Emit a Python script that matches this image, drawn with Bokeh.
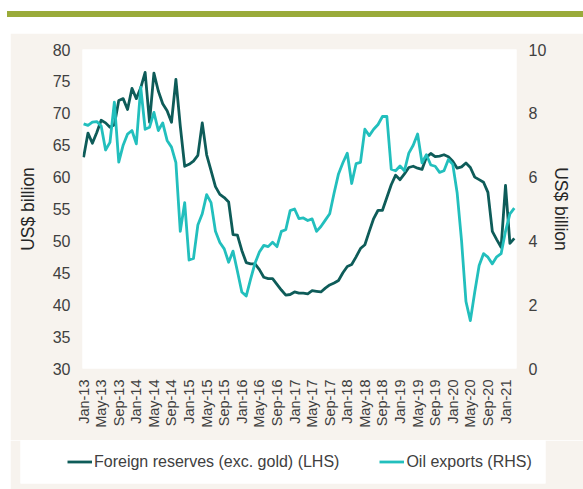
import math
from bokeh.plotting import figure
from bokeh.models import Range1d, LinearAxis, FixedTicker, Legend, LegendItem, Div
from bokeh.layouts import column
from bokeh.embed import file_html
from bokeh.resources import INLINE

# ---------------- data ----------------
reserves = [63.1, 66.9, 65.3, 67.0, 68.9, 68.5, 67.8, 68.2, 72.0, 72.3,
            70.6, 73.9, 72.3, 74.0, 76.4, 68.6, 76.3, 73.5, 71.5, 70.4,
            68.6, 75.3, 68.0, 61.7, 62.0, 62.5, 63.4, 68.5, 63.5, 61.0,
            58.5, 57.3, 56.8, 56.1, 51.0, 50.9, 48.5, 46.6, 46.4, 46.4,
            45.5, 44.3, 44.1, 44.1, 43.2, 42.3, 41.5, 41.6, 42.0, 41.8,
            41.8, 41.7, 42.2, 42.1, 42.0, 42.6, 43.1, 43.4, 43.8, 45.0,
            46.0, 46.3, 47.5, 48.8, 49.4, 51.5, 53.5, 54.8, 54.8, 56.8,
            58.8, 60.3, 59.6, 60.5, 61.5, 61.7, 61.4, 61.2, 63.1, 63.7,
            63.2, 63.3, 63.5, 63.2, 62.5, 61.4, 61.6, 62.2, 61.5, 60.0,
            59.6, 59.2, 57.6, 51.5, 50.2, 49.0, 58.7, 49.6, 50.4]

oil = [7.67, 7.62, 7.72, 7.74, 7.60, 6.85, 7.09, 8.35, 6.47, 7.00,
       7.35, 7.46, 7.04, 8.82, 7.50, 7.56, 8.03, 7.46, 7.70, 7.15,
       6.94, 6.45, 4.30, 5.20, 3.40, 3.45, 4.50, 4.85, 5.45, 5.20,
       4.30, 3.95, 3.75, 3.33, 3.68, 3.05, 2.40, 2.27, 2.80, 3.30,
       3.65, 3.86, 3.82, 3.96, 3.82, 4.30, 4.35, 4.95, 5.00, 4.70,
       4.72, 4.64, 4.69, 4.30, 4.45, 4.65, 4.85, 5.50, 6.10, 6.45,
       6.75, 5.80, 6.42, 6.46, 7.50, 7.30, 7.50, 7.65, 7.90, 7.90,
       6.25, 6.20, 6.35, 6.20, 6.75, 7.00, 7.35, 6.45, 6.70, 6.38,
       6.34, 6.15, 6.20, 6.55, 6.40, 5.50, 4.00, 2.10, 1.50, 2.40,
       3.23, 3.60, 3.49, 3.28, 3.50, 3.60, 4.30, 4.85, 5.03]

tick_labels = ["Jan-13", "May-13", "Sep-13", "Jan-14", "May-14", "Sep-14",
               "Jan-15", "May-15", "Sep-15", "Jan-16", "May-16", "Sep-16",
               "Jan-17", "May-17", "Sep-17", "Jan-18", "May-18", "Sep-18",
               "Jan-19", "May-19", "Sep-19", "Jan-20", "May-20", "Sep-20",
               "Jan-21"]
left_ticks = [30, 35, 40, 45, 50, 55, 60, 65, 70, 75, 80]
right_ticks = [0, 2, 4, 6, 8, 10]
series_names = ["Foreign reserves (exc. gold) (LHS)", "Oil exports (RHS)"]

months = list(range(len(reserves)))
tick_pos = list(range(0, 4 * len(tick_labels), 4))

FONT = "Liberation Sans"
DARK = "#0e5c59"
CYAN = "#22bfbd"
BEIGE = "#f7f3ee"
TXT = "#404040"
LW = 2.8

# ---------------- main chart ----------------
p = figure(width=573, height=407, output_backend="svg", toolbar_location=None,
           x_range=Range1d(-0.25, 98.5), y_range=Range1d(30, 80),
           min_border_left=72, min_border_right=67, min_border_top=16,
           min_border_bottom=72, background_fill_color="white",
           border_fill_color=BEIGE, outline_line_color=None,
           margin=(0, 0, 0, 10))
p.frame_align = False
p.extra_y_ranges = {"oil": Range1d(0, 10)}
p.add_layout(LinearAxis(y_range_name="oil", ticker=FixedTicker(ticks=right_ticks),
                        axis_label="US$ billion"), "right")
p.yaxis[0].ticker = FixedTicker(ticks=left_ticks)
p.yaxis[0].axis_label = "US$ billion"

for ax in p.yaxis:
    ax.axis_line_color = None
    ax.major_tick_line_color = None
    ax.minor_tick_line_color = None
    ax.major_label_text_font = FONT
    ax.major_label_text_font_size = "16px"
    ax.major_label_text_color = TXT
    ax.major_label_standoff = 6
    ax.axis_label_text_font = FONT
    ax.axis_label_text_font_size = "17.5px"
    ax.axis_label_text_font_style = "normal"
    ax.axis_label_text_color = "#262626"
    ax.axis_label_standoff = 12
p.yaxis[1].axis_label_standoff = 2

xa = p.xaxis[0]
xa.ticker = FixedTicker(ticks=tick_pos)
xa.major_label_overrides = {pos: lab for pos, lab in zip(tick_pos, tick_labels)}
xa.major_label_orientation = math.pi / 2
xa.axis_line_color = None
xa.major_tick_line_color = None
xa.minor_tick_line_color = None
xa.major_label_text_font = FONT
xa.major_label_text_font_size = "14.5px"
xa.major_label_text_color = TXT
xa.major_label_standoff = 5

p.xgrid.visible = False
p.ygrid.visible = False

p.line(months, reserves, line_color=DARK, line_width=LW, line_join="round")
p.line(months, oil, y_range_name="oil", line_color=CYAN, line_width=LW,
       line_join="round")

# ---------------- legend strip ----------------
# Same series drawn in a small strip whose view ranges lie outside the data,
# so only the legend (white box) is visible.
lg = figure(width=573, height=49, output_backend="svg", toolbar_location=None,
            x_range=Range1d(0, 1), y_range=Range1d(0, 1),
            x_axis_type=None, y_axis_type=None,
            min_border_left=10, min_border_right=38, min_border_top=0,
            min_border_bottom=6, background_fill_color="white",
            border_fill_color=BEIGE, outline_line_color=None,
            margin=(0, 0, 0, 10))
lg.frame_align = False
lg.xgrid.visible = False
lg.ygrid.visible = False
lg.extra_y_ranges = {"oil": Range1d(100, 101)}
k1 = lg.line(months, reserves, line_color=DARK, line_width=LW)
k2 = lg.line(months, oil, y_range_name="oil", line_color=CYAN, line_width=LW)
legend = Legend(items=[LegendItem(label=series_names[0], renderers=[k1]),
                       LegendItem(label=series_names[1], renderers=[k2])],
                location=(47, 10), orientation="horizontal", padding=0, margin=0,
                spacing=40, glyph_width=25, glyph_height=23, label_height=23,
                label_standoff=2, background_fill_alpha=0, border_line_color=None,
                label_text_font=FONT, label_text_font_size="16px",
                label_text_color=TXT)
lg.add_layout(legend)

top = Div(text='<div style="position:relative;left:7px;top:5px;width:576px;'
               'height:6px;background:#9aab3a"></div>',
          width=583, height=33, margin=(0, 0, 0, 0))

layout = column(top, p, lg)
open("out.html", "w").write(file_html(layout, INLINE))
